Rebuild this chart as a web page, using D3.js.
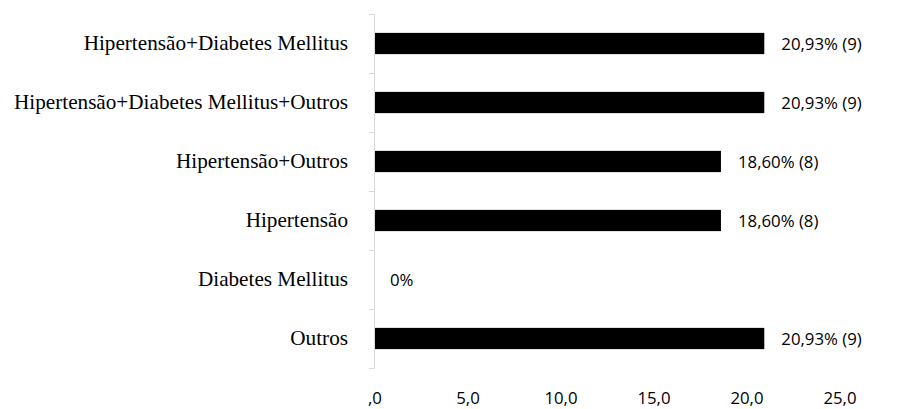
<!DOCTYPE html>
<html>
<head>
<meta charset="utf-8">
<script src="https://cdn.jsdelivr.net/npm/d3@7"></script>
<style>
  html, body { margin: 0; padding: 0; background: #fff; }
</style>
</head>
<body>
<div id="chart"></div>
<script>
// Data
const categories = [
  'Hipertensão+Diabetes Mellitus',
  'Hipertensão+Diabetes Mellitus+Outros',
  'Hipertensão+Outros',
  'Hipertensão',
  'Diabetes Mellitus',
  'Outros'
];
const values = [20.93, 20.93, 18.60, 18.60, 0, 20.93];
const valueLabels = ['20,93% (9)', '20,93% (9)', '18,60% (8)', '18,60% (8)', '0%', '20,93% (9)'];
const xTicks = [0, 5, 10, 15, 20, 25];
const xTickLabels = [',0', '5,0', '10,0', '15,0', '20,0', '25,0'];

const width = 897;
const height = 409;
const margin = { top: 14, right: 57, bottom: 41, left: 375 };

const svg = d3.select('#chart').append('svg')
  .attr('width', width)
  .attr('height', height);

const x = d3.scaleLinear()
  .domain([0, 25])
  .range([margin.left, width - margin.right]);

const y = d3.scaleBand()
  .domain(categories)
  .range([margin.top, height - margin.bottom])
  .paddingInner(0.64)
  .paddingOuter(0.32);

// band boundaries for the category tick marks
const yEdge = d3.scaleLinear()
  .domain([0, categories.length])
  .range([margin.top, height - margin.bottom]);

const axisColor = '#d9d9d9';

// vertical axis line
svg.append('line')
  .attr('x1', x(0) - 0.5).attr('x2', x(0) - 0.5)
  .attr('y1', yEdge(0)).attr('y2', yEdge(categories.length))
  .attr('stroke', axisColor)
  .attr('stroke-width', 1);

// tick marks between categories (pointing left)
svg.append('g')
  .selectAll('line')
  .data(d3.range(categories.length + 1))
  .join('line')
  .attr('x1', x(0) - 6).attr('x2', x(0) - 0.5)
  .attr('y1', d => Math.round(yEdge(d)) + 0.5)
  .attr('y2', d => Math.round(yEdge(d)) + 0.5)
  .attr('stroke', axisColor)
  .attr('stroke-width', 1);

// category labels
svg.append('g')
  .selectAll('text')
  .data(categories)
  .join('text')
  .attr('x', 348)
  .attr('y', d => y(d) + y.bandwidth() / 2)
  .attr('dy', '0.33em')
  .attr('text-anchor', 'end')
  .attr('font-family', '"Liberation Serif", "Times New Roman", serif')
  .attr('font-size', 21.2)
  .attr('fill', '#000')
  .text(d => d);

// bars
svg.append('g')
  .selectAll('rect')
  .data(values)
  .join('rect')
  .attr('x', x(0))
  .attr('y', (d, i) => y(categories[i]))
  .attr('width', d => x(d) - x(0))
  .attr('height', y.bandwidth())
  .attr('fill', '#000');

// value labels
svg.append('g')
  .selectAll('text')
  .data(values)
  .join('text')
  .attr('x', d => x(d) + (d > 0 ? 17 : 15))
  .attr('y', (d, i) => y(categories[i]) + y.bandwidth() / 2)
  .attr('dy', '0.36em')
  .attr('font-family', '"Open Sans", "Noto Sans", sans-serif')
  .attr('font-size', 16.8)
  .attr('fill', '#000')
  .text((d, i) => valueLabels[i]);

// x tick labels (no axis line)
svg.append('g')
  .selectAll('text')
  .data(xTicks)
  .join('text')
  .attr('x', d => x(d))
  .attr('y', 404)
  .attr('text-anchor', 'middle')
  .attr('font-family', '"Open Sans", "Noto Sans", sans-serif')
  .attr('font-size', 16.8)
  .attr('fill', '#000')
  .text((d, i) => xTickLabels[i]);
</script>
</body>
</html>
